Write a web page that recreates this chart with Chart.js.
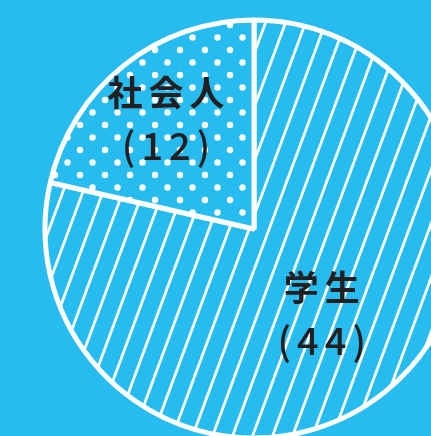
<!DOCTYPE html>
<html>
<head>
<meta charset="utf-8">
<script src="https://cdn.jsdelivr.net/npm/chart.js@4"></script>
<style>
  html, body { margin: 0; padding: 0; background: #27bcef; overflow: hidden; }
  #wrap { position: relative; width: 431px; height: 436px; }
</style>
</head>
<body>
<div id="wrap"><canvas id="pieChart"></canvas></div>
<script>
const labels = ["学生", "社会人"];
const counts = [44, 12];

const blue = "#27bcef";

// diagonal white stripes for 学生
function stripePattern() {
  const c = document.createElement("canvas");
  c.width = 20;
  c.height = 54;
  const g = c.getContext("2d");
  g.fillStyle = blue;
  g.fillRect(0, 0, c.width, c.height);
  g.strokeStyle = "#fff";
  g.lineWidth = 2.8;
  for (let k = -1; k <= 2; k++) {
    const x0 = 14 + 20 * k;
    g.beginPath();
    g.moveTo(x0, 0);
    g.lineTo(x0 - 20, 54);
    g.stroke();
  }
  return g.createPattern(c, "repeat");
}

// staggered white dots for 社会人
function dotPattern() {
  const c = document.createElement("canvas");
  c.width = 25;
  c.height = 25;
  const g = c.getContext("2d");
  g.fillStyle = blue;
  g.fillRect(0, 0, 25, 25);
  g.fillStyle = "#fff";
  const pts = [[5, 0], [5, 25], [17.5, 12.5]];
  pts.forEach(([x, y]) => {
    g.beginPath();
    g.arc(x, y, 3.2, 0, Math.PI * 2);
    g.fill();
  });
  return g.createPattern(c, "repeat");
}

// draw "name" and "(count)" on each slice
const sliceLabels = {
  id: "sliceLabels",
  afterDatasetsDraw(chart, args, opts) {
    const ctx = chart.ctx;
    const meta = chart.getDatasetMeta(0);
    meta.data.forEach((arc, i) => {
      const p = arc.getProps(["x", "y", "startAngle", "endAngle", "outerRadius"], true);
      const mid = (p.startAngle + p.endAngle) / 2;
      const r = p.outerRadius * opts.distance[i];
      const cx = p.x + Math.cos(mid) * r;
      const cy = p.y + Math.sin(mid) * r;
      ctx.save();
      ctx.fillStyle = "#231f20";
      ctx.textAlign = "center";
      ctx.textBaseline = "middle";
      ctx.font = "bold 35px 'Noto Sans CJK JP'";
      ctx.letterSpacing = "6px";
      ctx.fillText(labels[i], cx + 3, cy - 26);
      ctx.font = "500 38px 'Noto Sans CJK JP'";
      ctx.letterSpacing = "6px";
      ctx.fillText("(" + counts[i] + ")", cx + 3, cy + 27);
      ctx.restore();
    });
  }
};

new Chart(document.getElementById("pieChart"), {
  type: "pie",
  data: {
    labels: labels,
    datasets: [
      {
        data: counts,
        backgroundColor: [stripePattern(), dotPattern()],
        borderColor: "#fff",
        borderWidth: 5,
        radius: 209,
        clip: false,
      },
    ],
  },
  options: {
    responsive: true,
    maintainAspectRatio: false,
    animation: false,
    events: [],
    layout: { padding: { left: 77, top: 22, right: 0, bottom: 0 } },
    plugins: {
      legend: { display: false },
      tooltip: { enabled: false },
      sliceLabels: { distance: [0.52, 0.675] },
    },
  },
  plugins: [sliceLabels],
});
</script>
</body>
</html>
